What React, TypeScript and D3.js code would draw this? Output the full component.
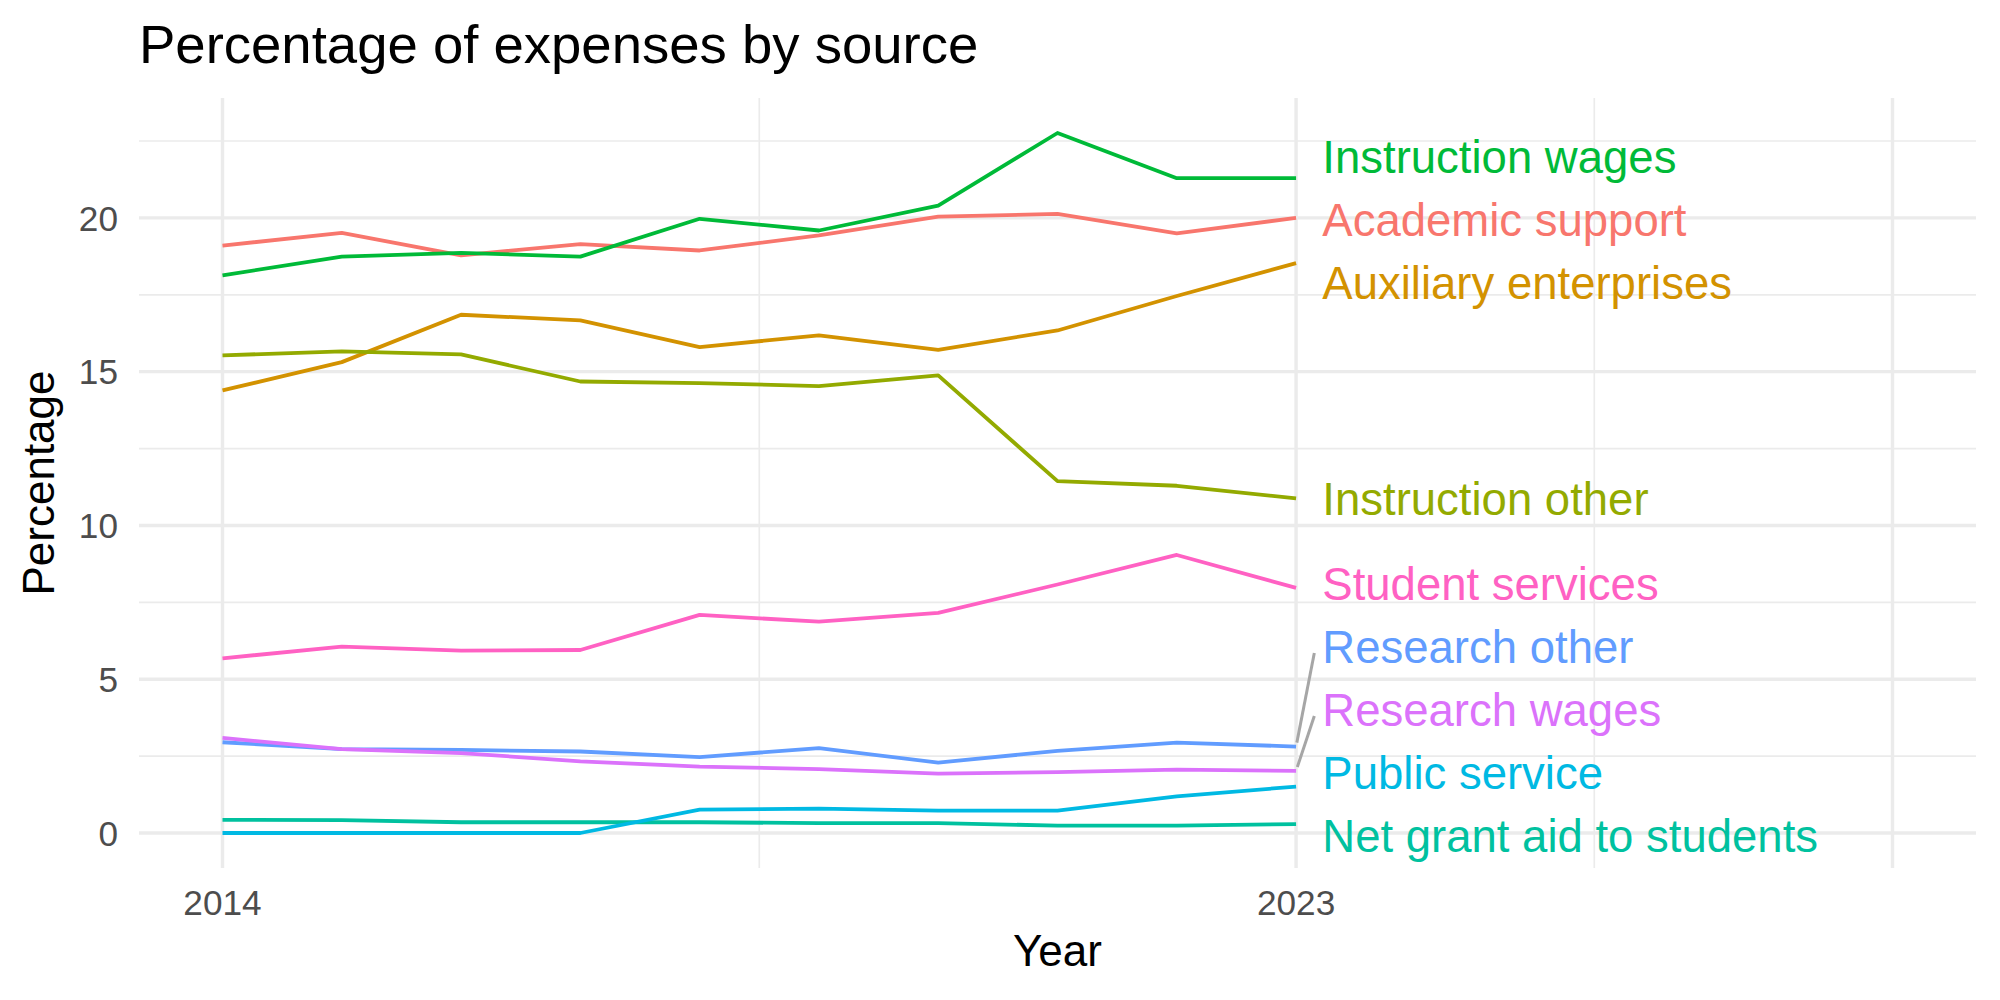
import React from 'react';
import * as d3 from 'd3';

// yearly share of expenses (%) for each source
const years = [2014, 2015, 2016, 2017, 2018, 2019, 2020, 2021, 2022, 2023];

const sources = [
  'Academic support',
  'Auxiliary enterprises',
  'Instruction other',
  'Instruction wages',
  'Net grant aid to students',
  'Public service',
  'Research other',
  'Research wages',
  'Student services',
];

const academicSupport = [19.10, 19.51, 18.78, 19.15, 18.94, 19.43, 20.04, 20.13, 19.50, 20.00];
const auxiliaryEnterprises = [14.39, 15.31, 16.85, 16.67, 15.80, 16.18, 15.71, 16.34, 17.46, 18.53];
const instructionOther = [15.53, 15.66, 15.56, 14.68, 14.63, 14.53, 14.88, 11.44, 11.29, 10.88];
const instructionWages = [18.13, 18.74, 18.86, 18.74, 19.97, 19.59, 20.40, 22.76, 21.29, 21.29];
const netGrantAid = [0.43, 0.42, 0.35, 0.35, 0.35, 0.32, 0.32, 0.24, 0.24, 0.29];
const publicService = [0, 0, 0, 0, 0.76, 0.79, 0.73, 0.73, 1.19, 1.51];
const researchOther = [2.95, 2.73, 2.70, 2.65, 2.47, 2.76, 2.29, 2.67, 2.94, 2.81];
const researchWages = [3.09, 2.73, 2.60, 2.33, 2.16, 2.08, 1.93, 1.98, 2.06, 2.02];
const studentServices = [5.68, 6.06, 5.93, 5.95, 7.09, 6.87, 7.16, 8.08, 9.04, 7.97];

const seriesValues = [
  academicSupport, auxiliaryEnterprises, instructionOther, instructionWages,
  netGrantAid, publicService, researchOther, researchWages, studentServices,
];

// x runs past the last year to leave room for the labels
const xLimits = [2014, 2028];
const xBreaks = [2014, 2023, 2028];
const xLabels = ['2014', '2023', ''];
const yBreaks = [0, 5, 10, 15, 20];

// ggplot-style hue palette
const colors = ['#F8766D', '#D39200', '#93AA00', '#00BA38', '#00C19F', '#00B9E3', '#619CFF', '#DB72FB', '#FF61C3'];

const W = 2000;
const H = 1000;
const panel = { left: 139, right: 1976, top: 98, bottom: 868 };
const font = '"Liberation Sans", Arial, Helvetica, sans-serif';
const gridCol = '#EBEBEB';

// push label centres apart (in px) so they don't overlap, kept inside the panel
function repel(ys: number[], gap: number, lo: number, hi: number) {
  const order = d3.range(ys.length).sort((a, b) => ys[a] - ys[b]);
  const pos = order.map((i) => ys[i]);
  for (let it = 0; it < 500; it++) {
    for (let k = 1; k < pos.length; k++) {
      const diff = pos[k] - pos[k - 1];
      if (diff < gap) {
        const d = (gap - diff) / 2;
        pos[k - 1] -= d;
        pos[k] += d;
      }
    }
    for (let k = 0; k < pos.length; k++) {
      pos[k] = Math.max(lo, Math.min(hi, pos[k]));
    }
  }
  const out = new Array(ys.length);
  order.forEach((i, k) => { out[i] = pos[k]; });
  return out;
}

export default function App() {
  const xPad = (xLimits[1] - xLimits[0]) * 0.05;
  const x = d3.scaleLinear()
    .domain([xLimits[0] - xPad, xLimits[1] + xPad])
    .range([panel.left, panel.right]);

  const allVals = seriesValues.flat();
  const yMin = d3.min(allVals) as number;
  const yMax = d3.max(allVals) as number;
  const yPad = (yMax - yMin) * 0.05;
  const y = d3.scaleLinear()
    .domain([yMin - yPad, yMax + yPad])
    .range([panel.bottom, panel.top]);

  const line = d3.line<number>()
    .x((d, i) => x(years[i]))
    .y((d) => y(d));

  // minor breaks sit halfway between the major ones
  const xMinor = d3.range(1, xBreaks.length).map((i) => (xBreaks[i - 1] + xBreaks[i]) / 2);
  const yMinor = d3.range(-2.5, yMax + yPad, 5).filter((v) => v > y.domain()[0] && v < y.domain()[1]);

  const lastYear = years[years.length - 1];
  const lastPx = seriesValues.map((s) => y(s[s.length - 1]));
  const labelY = repel(lastPx, 63, panel.top + 32, panel.bottom - 32);
  const labelX = x(lastYear + 0.22);

  const labelSize = 45.5;

  return (
    <svg width={W} height={H} style={{ position: 'absolute', left: 0, top: 0, background: '#fff' }}
      fontFamily={font}>
      <rect x={0} y={0} width={W} height={H} fill="#fff" />

      {/* grid */}
      <g>
        {yMinor.map((v) => (
          <line key={'ym' + v} x1={panel.left} x2={panel.right} y1={y(v)} y2={y(v)} stroke={gridCol} strokeWidth={1.7} />
        ))}
        {xMinor.map((v) => (
          <line key={'xm' + v} x1={x(v)} x2={x(v)} y1={panel.top} y2={panel.bottom} stroke={gridCol} strokeWidth={1.7} />
        ))}
        {yBreaks.map((v) => (
          <line key={'y' + v} x1={panel.left} x2={panel.right} y1={y(v)} y2={y(v)} stroke={gridCol} strokeWidth={3.4} />
        ))}
        {xBreaks.map((v) => (
          <line key={'x' + v} x1={x(v)} x2={x(v)} y1={panel.top} y2={panel.bottom} stroke={gridCol} strokeWidth={3.4} />
        ))}
      </g>

      {/* series */}
      <g fill="none" strokeWidth={3.8} strokeLinejoin="round">
        {seriesValues.map((s, i) => (
          <path key={sources[i]} d={line(s) as string} stroke={colors[i]} />
        ))}
      </g>

      {/* leader segments for labels that got pushed away from their line */}
      <g stroke="#A6A6A6" strokeWidth={3}>
        {seriesValues.map((s, i) => {
          const py = lastPx[i];
          const ly = labelY[i];
          if (Math.abs(ly - py) < 30) return null;
          const x0 = x(lastYear);
          const x1 = labelX - 8;
          const y1 = ly + 6;
          const len = Math.hypot(x1 - x0, y1 - py);
          const ux = (x1 - x0) / len;
          const uy = (y1 - py) / len;
          return <line key={'seg' + i} x1={x0 + ux * 4} y1={py + uy * 4} x2={x1} y2={y1} />;
        })}
      </g>

      {/* end labels */}
      <g fontSize={labelSize}>
        {sources.map((name, i) => (
          <text key={'lab' + i} x={labelX} y={labelY[i]} dy="0.36em" fill={colors[i]}>{name}</text>
        ))}
      </g>

      {/* axes text */}
      <g fontSize={35.2} fill="#4D4D4D">
        {yBreaks.map((v) => (
          <text key={'yt' + v} x={118} y={y(v)} dy="0.36em" textAnchor="end">{v}</text>
        ))}
        {xBreaks.map((v, i) => (
          <text key={'xt' + v} x={x(v)} y={915} textAnchor="middle">{xLabels[i]}</text>
        ))}
      </g>

      <text x={(panel.left + panel.right) / 2} y={966} textAnchor="middle" fontSize={44} fill="#000">Year</text>
      <text transform={`translate(54, ${(panel.top + panel.bottom) / 2}) rotate(-90)`} textAnchor="middle"
        fontSize={44} fill="#000">Percentage</text>

      <text x={panel.left} y={63} fontSize={54.5} fill="#000">Percentage of expenses by source</text>
    </svg>
  );
}
